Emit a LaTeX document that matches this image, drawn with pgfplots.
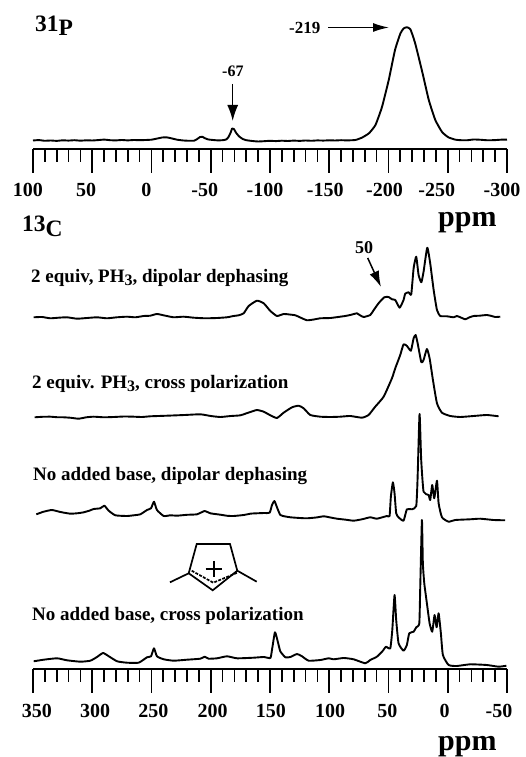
\documentclass[border=0pt]{standalone}
\usepackage{fontspec}
\setmainfont{Liberation Serif}
\usepackage{pgfplots}
\pgfplotsset{compat=1.18}
\usetikzlibrary{arrows.meta}
\newcommand{\fs}[1]{\fontsize{#1}{#1}\selectfont\bfseries}
\newcommand{\sub}[1]{\raisebox{-2.5pt}{\fontsize{16}{16}\selectfont #1}}
\newcommand{\sh}[2]{\kern#1pt #2\kern-#1pt\relax}
\pgfplotsset{spec/.style={
  scale only axis, width=474pt, x dir=reverse,
  axis y line=none, axis x line=bottom, axis line style={-, line width=1.9pt},
  tick align=outside, major tick length=24pt, minor tick length=13pt,
  minor x tick num=4, tick style={black, line width=1.7pt},
  every minor tick/.style={black, line width=1.7pt},
  every x tick label/.append style={font=\fs{20}, yshift=-7pt},
  ymin=0, clip=false},
  trace/.style={black, line width=1.9pt, smooth, tension=0.3, line join=round}}
\begin{document}
\begin{tikzpicture}[x=1pt,y=1pt]
\path[use as bounding box] (0,0) rectangle (525,757);
% 31P
\begin{axis}[spec, at={(33pt,608pt)}, anchor=south west, height=149pt, ymax=149,
  xmin=-300, xmax=100, xtick={100,50,0,-50,-100,-150,-200,-250,-300},
  xticklabels={\sh{-5}{100},\sh{-6}{50},\sh{-5}{0},\sh{-6}{-50},\sh{-5}{-100},\sh{-4}{-150},\sh{-4}{-200},\sh{-11}{-250},\sh{-5}{-300}}]
\addplot[trace] coordinates {
(100,8.5)(95,8.9)(90,8.2)(85,8.5)(80,8.1)(75,8.7)(70,8.4)(65,8.8)(60,8.3)(55,8.7)(50,8.5)(45,8.9)(40,9.4)(35,8.8)(30,8.6)(25,9)(20,8.6)(15,9)(10,8.8)(5,9)(0,9.3)(-5,10.5)(-9,11.5)(-13,11.6)(-17,10.6)(-22,9.2)(-27,8.5)(-32,8.2)(-36,8.3)(-38,9.5)(-41,12)(-43,12.2)(-45,10.8)(-48,9.5)(-52,9)(-56,8.6)(-60,8.8)(-63,9.5)(-65,12)(-67,17)(-68,20.5)(-69.5,20)(-71.5,16)(-74,12.5)(-77,10)(-80,8.8)(-85,8)(-90,7.5)(-95,7.8)(-100,8.2)(-105,7.9)(-110,8.3)(-115,8)(-120,8.4)(-125,8.1)(-130,8.5)(-135,8.2)(-140,8.6)(-145,8.4)(-150,8.7)(-155,8.5)(-160,8.8)(-165,8.6)(-172,9)(-177.5,11.3)(-183.5,15.7)(-189,24)(-194.5,42)(-200.2,69)(-205.5,99)(-210.1,115.7)(-212.9,120.7)(-215.5,121.7)(-218.5,119.7)(-222.5,105.7)(-228.5,77)(-234,49)(-239.5,29)(-245.2,17)(-250.5,11.7)(-256.5,9.3)(-261,8.8)(-266,8.7)(-272,9.5)(-278,9.2)(-284,8.7)(-290,8.9)(-295,9.3)(-300,9.4)};
\end{axis}
% 13C
\begin{axis}[spec, at={(33pt,88pt)}, anchor=south west, height=434pt, ymax=434,
  xmin=-50, xmax=350, xtick={350,300,250,200,150,100,50,0,-50},
  xticklabels={\sh{4}{350},\sh{3}{300},\sh{2}{250},\sh{2}{200},\sh{1}{150},\sh{1}{100},\sh{-1}{50},\sh{-3}{0},\sh{-8}{-50}},
  every x tick label/.append style={yshift=-1pt}]
\addplot[trace] coordinates {
(349.4,351.7)(342.4,352)(335.4,350.7)(328.3,351.3)(321.3,351.7)(312.9,350.3)(304.4,351)(296,351.7)(287.6,350.7)(279.1,351.7)(270.7,352.3)(263.6,351.7)(256.6,353)(251,353.3)(245.4,355)(238.3,353.3)(231.3,351.7)(222.9,352.3)(214.4,351.3)(204.6,350.7)(194.7,351)(186.3,351.7)(180.7,353)(176.4,353.7)(172.2,355.7)(168,363)(161,368.3)(155.3,365.7)(149.7,358)(144.1,353)(138.5,355)(133.5,354.5)(128.6,353.7)(123.5,351)(118.8,348.7)(113,349.5)(107.5,350.7)(99,351)(90.7,352.3)(86.5,353)(82.3,354)(76.6,355.7)(74.4,354)(71,352)(65.4,354)(62.6,358.7)(58.4,365.7)(53.6,371.7)(49.9,372)(47.1,369.7)(44.3,369)(40.6,361.3)(37.3,369)(35.9,375.3)(33,376.7)(30.8,374.7)(28.8,400.7)(26.6,412.3)(24.6,394)(22.3,386.7)(20.4,397.3)(17.3,421.3)(14.8,405.7)(11.9,379)(9.1,359)(6.3,353)(0.7,352.7)(-4.9,351.7)(-7.7,353)(-11,351.5)(-14.8,349.7)(-18,351.5)(-21.8,353)(-27,353.3)(-33,354)(-37,353)(-40.1,352)(-44.3,352.3)};
\addplot[trace] coordinates {
(348.6,251.7)(342,252.2)(335.4,252.3)(330,251.8)(324.1,251.7)(318,251.2)(311.5,250.3)(305,251.7)(298.8,252.3)(290,251.7)(281.9,252)(273,252.5)(265,252.3)(258,252)(251,252.7)(244,253)(236.9,253.3)(222,254)(208.8,254.7)(200,253)(191.9,252)(183,253)(175,253.7)(166.6,257)(161,259)(155.3,257.3)(149.7,253.7)(144.1,251)(138.5,256.3)(131.4,261.7)(125.8,263.3)(121.6,260.7)(116,254)(107.5,252.3)(99,252)(90.7,252.3)(82.3,253)(72.4,251.3)(66.8,254)(61.2,262.3)(54.1,272.3)(47.1,290.7)(44.3,300.7)(40.1,314)(37.3,324.7)(34.4,323)(31.1,318.3)(28.8,330.7)(27.1,334)(25.4,325.7)(22.3,306.7)(20.4,309)(17.6,320)(15.3,310.7)(12.5,289)(9.1,265.7)(4.9,256.3)(-2.1,253)(-10.6,252)(-21.8,253)(-33,254)(-42.9,252.7)};
\addplot[trace] coordinates {
(347.2,154.7)(341,157.3)(334,159)(326.9,157)(318.5,155.3)(312,155.8)(307.2,156.7)(302,158.5)(298.8,160)(293.2,160.7)(289.8,163.3)(286.1,158.3)(280.5,153.7)(270.7,153)(265,153.7)(259.4,154.7)(253.8,159)(250.4,160.7)(247.9,167.3)(245.4,159)(239.7,153)(234,153.7)(228.5,153.3)(220,154.2)(211.6,154.7)(205.1,158)(200.4,155.7)(191.9,154.3)(186,153.2)(180.7,153)(172.2,154)(166,155.4)(161,155.7)(155,156)(150.3,156.3)(148.3,164)(146.3,168)(144.1,161.7)(141.3,154)(137,152.5)(132.8,151.7)(125,151)(118.8,150.7)(111,151.5)(104.7,152.7)(99,151.5)(93.5,150.3)(86,149.3)(79.4,148.3)(72,149.8)(65.4,151.7)(59.8,150.3)(51.3,153)(49.1,153)(48,172.3)(46.3,186.7)(44.9,175.7)(43.5,155.7)(41.5,151.7)(37.3,148.3)(34.5,159.7)(30.2,159.7)(26.6,163)(25.5,189)(23.8,255)(22.4,209)(20.4,177.3)(16.2,174)(14.8,169)(13.1,184)(11.4,170.7)(9.1,188.3)(7.7,165.7)(4.9,151.7)(-0.7,147.3)(-6.3,149)(-19,149.7)(-27.4,150.3)(-38.7,149)(-48.5,148.7)};
\addplot[trace] coordinates {
(349.4,7.7)(341,9.3)(329.7,10.7)(321.3,8.7)(310,7.3)(301.6,8.3)(296,12)(290.9,16)(286,12.7)(279,7.7)(270.7,6.3)(260.8,6.3)(253.8,11.7)(250.4,12.7)(247.9,20.7)(245.4,12.7)(239.7,9.7)(231.3,8.3)(220,9.3)(208.8,10.3)(205.1,12.3)(201.8,10.3)(194.7,10.7)(186.3,12.7)(177.8,10.7)(163.8,11.3)(155.3,12)(149.7,11)(148.3,19.3)(145.8,36.7)(143.5,27.7)(141.3,17.7)(137,11.7)(132.8,12)(127.2,15)(123,12.7)(117.4,8.3)(107.5,9)(100.5,10.7)(96.3,9.7)(87.8,11)(79.4,9.7)(69.6,5.7)(65.4,9)(59.8,12.3)(54.7,18.3)(52.2,22.3)(48.5,20.7)(46.8,39)(44.9,74)(43.5,49)(41.5,25.7)(37.3,18.3)(34.5,24)(32.5,35.7)(28.8,37.3)(26.6,41.7)(24,45.7)(23.2,82.3)(21.8,149)(21,105.7)(19.8,85.7)(17.6,65.7)(15.3,45.7)(13.1,37.3)(11.1,54)(9.4,41.7)(7.7,55.7)(5.8,35.7)(4.1,14)(-0.7,4)(-7.7,3)(-19,4.7)(-33,4)(-42.9,2.3)(-49.5,3.3)};
\end{axis}
\begin{scope}[yshift=757pt, y=-1pt]
\node[anchor=base west, inner sep=0] at (35,32) {\fs{23.5}31\raisebox{-4pt}{P}};
\node[anchor=base west, inner sep=0] at (22,232) {\fs{23.5}13\raisebox{-5pt}{C}};
\node[anchor=base west, inner sep=0] at (438,227) {\fs{30}ppm};
\node[anchor=base west, inner sep=0] at (438,750.5) {\fs{30}ppm};
\node[anchor=base west, inner sep=0] at (31,283) {\fs{19}2 equiv, PH\sub{3}, dipolar dephasing};
\node[anchor=base west, inner sep=0] at (32,389) {\fs{19}2 equiv. PH\sub{3}, cross polarization};
\node[anchor=base west, inner sep=0] at (33,481) {\fs{19}No added base, dipolar dephasing};
\node[anchor=base west, inner sep=0] at (32,621) {\fs{19}No added base, cross polarization};
\node[anchor=base west, inner sep=0] at (355,254) {\fs{18}50};
\node[anchor=base west, inner sep=0] at (222,77) {\fs{16}-67};
\node[anchor=base west, inner sep=0] at (289,34) {\fs{17}-219};
\draw[line width=1.5pt,-{Latex[length=16pt,width=9pt]}] (328,27.5)--(389,27.5);
\draw[line width=1.5pt,-{Latex[length=16pt,width=11pt]}] (232.7,84)--(232.7,121);
\draw[line width=1.5pt,-{Latex[length=16pt,width=10pt]}] (367.7,258)--(381,287);
\draw[line width=1.7pt] (170,582.3)--(188.7,573.3)--(196.7,544)--(230,544)--(237.3,570.7)--(256.7,581.7);
\draw[line width=1.7pt] (188.7,573.3)--(212.7,590.3)--(237.3,570.7);
\draw[line width=1.7pt,dash pattern=on 3pt off 1.3pt] (191.7,570.7)--(213.3,582.7)--(237.3,572.7);
\draw[line width=1.7pt] (205.7,569)--(221.7,569) (213.7,561)--(213.7,577);
\end{scope}
\end{tikzpicture}
\end{document}
